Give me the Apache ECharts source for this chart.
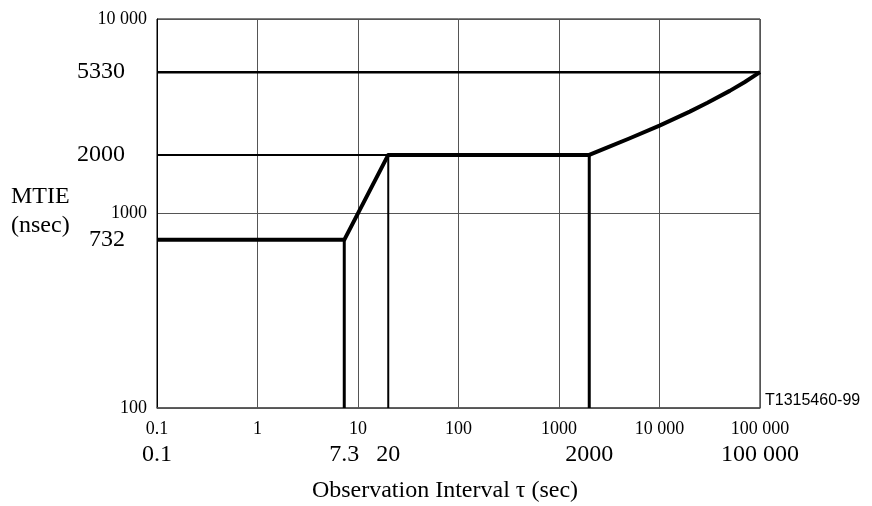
<!DOCTYPE html>
<html>
<head>
<meta charset="utf-8">
<script src="https://cdn.jsdelivr.net/npm/echarts@6/dist/echarts.min.js"></script>
<style>
  html, body { margin: 0; padding: 0; background: #fff; }
  #chart { width: 872px; height: 506px; }
</style>
</head>
<body>
<div id="chart"></div>
<script>
// MTIE mask: observation interval tau (s) against MTIE (ns)
const tau  = [0.1, 7.3, 20, 2000, 3000, 5000, 10000, 20000, 30000, 50000, 70000, 100000];
const mtie = [732, 732, 2000, 2000, 2180, 2430, 2830, 3340, 3710, 4270, 4730, 5330];

// Reference levels and the intervals where the mask changes shape
const levelLines = [
  { from: 0.1, to: 100000, value: 5330, width: 2.5 },
  { from: 0.1, to: 20, value: 2000, width: 2 }
];
const dropLines = [
  { at: 7.3, value: 732, width: 3 },
  { at: 20, value: 2000, width: 2 },
  { at: 2000, value: 2000, width: 3 }
];

// Annotated values below and left of the plot
const xMarks = [0.1, 7.3, 20, 2000, 100000];
const xMarkLabels = ['0.1', '7.3', '20', '2000', '100 000'];
const yMarks = [5330, 2000, 732];
const yMarkLabels = ['5330', '2000', '732'];

const xMin = 0.1, xMax = 100000, yMin = 100, yMax = 10000;
const SERIF = '"Liberation Serif", "Times New Roman", serif';
const BIG = '24px ' + SERIF;

function fmt(v) {
  if (v < 1) return String(+v.toPrecision(3));
  const n = Math.round(v);
  if (n < 10000) return String(n);
  return String(n).replace(/\B(?=(\d{3})+(?!\d))/g, ' ');
}

const series = [];
series.push({
  type: 'line', data: tau.map((t, i) => [t, mtie[i]]),
  symbol: 'none', smooth: false, z: 5,
  lineStyle: { color: '#000', width: 4, join: 'round' }
});
levelLines.forEach(l => series.push({
  type: 'line', data: [[l.from, l.value], [l.to, l.value]],
  symbol: 'none', z: 4, lineStyle: { color: '#000', width: l.width }
}));
dropLines.forEach(d => series.push({
  type: 'line', data: [[d.at, yMin], [d.at, d.value]],
  symbol: 'none', z: 4, lineStyle: { color: '#000', width: d.width }
}));

const chart = echarts.init(document.getElementById('chart'), null, { renderer: 'canvas' });
const option = {
  animation: false,
  backgroundColor: '#fff',
  grid: { left: 157, right: 112, top: 19, bottom: 98, show: true, borderColor: '#000', borderWidth: 1 },
  xAxis: {
    type: 'log', logBase: 10, min: xMin, max: xMax, splitNumber: 6,
    axisLine: { show: true, onZero: false, lineStyle: { color: '#555', width: 1.5 } },
    axisTick: { show: false }, minorTick: { show: false },
    splitLine: { show: true, lineStyle: { color: '#555', width: 1 } },
    axisLabel: { margin: 12, color: '#000', fontFamily: SERIF, fontSize: 18, formatter: fmt }
  },
  yAxis: {
    type: 'log', logBase: 10, min: yMin, max: yMax, splitNumber: 2,
    axisLine: { show: true, onZero: false, lineStyle: { color: '#000', width: 1 } },
    axisTick: { show: false }, minorTick: { show: false },
    splitLine: { show: true, lineStyle: { color: '#555', width: 1 } },
    axisLabel: { margin: 10, color: '#000', fontFamily: SERIF, fontSize: 18, formatter: fmt }
  },
  series: series
};
chart.setOption(option);

// Annotation texts placed through the axes' own scales
const graphics = [];
xMarks.forEach((v, i) => {
  const p = chart.convertToPixel({ xAxisIndex: 0, yAxisIndex: 0 }, [v, yMin]);
  graphics.push({
    type: 'text', x: p[0], y: 455,
    style: { text: xMarkLabels[i], fill: '#000', font: BIG, textAlign: 'center', textVerticalAlign: 'middle' }
  });
});
yMarks.forEach((v, i) => {
  const p = chart.convertToPixel({ xAxisIndex: 0, yAxisIndex: 0 }, [xMin, v]);
  graphics.push({
    type: 'text', x: 125, y: p[1],
    style: { text: yMarkLabels[i], fill: '#000', font: BIG, textAlign: 'right', textVerticalAlign: 'middle' }
  });
});
graphics.push({
  type: 'text', x: 11, y: 197,
  style: { text: 'MTIE', fill: '#000', font: BIG, textAlign: 'left', textVerticalAlign: 'middle' }
});
graphics.push({
  type: 'text', x: 11, y: 226,
  style: { text: '(nsec)', fill: '#000', font: BIG, textAlign: 'left', textVerticalAlign: 'middle' }
});
graphics.push({
  type: 'text', x: 445, y: 491,
  style: { text: 'Observation Interval τ (sec)', fill: '#000', font: BIG, textAlign: 'center', textVerticalAlign: 'middle' }
});
graphics.push({
  type: 'text', x: 765, y: 401,
  style: { text: 'T1315460-99', fill: '#000', font: '16px "Liberation Sans", Arial, sans-serif', textAlign: 'left', textVerticalAlign: 'middle' }
});
chart.setOption({ graphic: graphics });
</script>
</body>
</html>
